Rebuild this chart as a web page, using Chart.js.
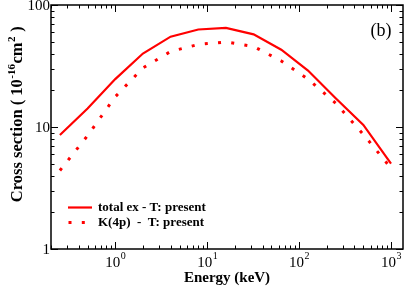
<!DOCTYPE html>
<html>
<head>
<meta charset="utf-8">
<script src="https://cdn.jsdelivr.net/npm/chart.js@4"></script>
<style>
  html, body { margin: 0; padding: 0; background: #fff; }
</style>
</head>
<body>
<canvas id="chart" width="407" height="288"></canvas>
<script>
// Data (log-log plot)
const energies = [0.25, 0.5, 1, 2, 4, 8, 16, 32, 64, 125, 250, 500, 1000];
const totalEx = [8.6, 14.2, 24.7, 40, 55, 63, 65, 57.5, 43, 29, 17.2, 10.4, 5.0];
const k4p = [4.4, 8.5, 17.7, 30.5, 41.6, 47.5, 49.8, 45.7, 34.8, 24.7, 15.7, 8.7, 4.6];
const xTickExponents = ['0', '1', '2', '3'];
const yTickValues = [1, 10, 100];
const seriesLabels = ['total ex - T: present', 'K(4p)  -  T: present'];

const RED = '#ff0000';
const SERIF = '"Liberation Serif", "DejaVu Serif", serif';
const DOT_DASH = [3, 10.3];

function toPoints(xs, ys) {
    return xs.map((v, i) => ({ x: v, y: ys[i] }));
}

// Draws frame, inward ticks, labels, titles and legend like the xmgrace original
const framePlugin = {
    id: 'frame',
    afterDraw(chart) {
        const ctx = chart.ctx;
        const a = chart.chartArea;
        const x = chart.scales.x;
        const y = chart.scales.y;

        ctx.save();
        ctx.strokeStyle = '#000';
        ctx.lineWidth = 1.5;
        ctx.strokeRect(a.left, a.top, a.right - a.left, a.bottom - a.top);

        ctx.lineWidth = 1;
        ctx.beginPath();
        // x ticks, bottom and top
        for (let d = -1; d <= 3; d++) {
            for (let m = 1; m <= 9; m++) {
                const v = m * Math.pow(10, d);
                if (v < 0.2 || v > 1350) continue;
                const px = Math.round(x.getPixelForValue(v)) + 0.5;
                const len = m === 1 ? 7 : 3.5;
                ctx.moveTo(px, a.bottom); ctx.lineTo(px, a.bottom - len);
                ctx.moveTo(px, a.top); ctx.lineTo(px, a.top + len);
            }
        }
        // y ticks, left and right
        for (let d = 0; d <= 2; d++) {
            for (let m = 1; m <= 9; m++) {
                const v = m * Math.pow(10, d);
                if (v > 100) continue;
                const py = Math.round(y.getPixelForValue(v)) + 0.5;
                const len = m === 1 ? 7 : 3.5;
                ctx.moveTo(a.left, py); ctx.lineTo(a.left + len, py);
                ctx.moveTo(a.right, py); ctx.lineTo(a.right - len, py);
            }
        }
        ctx.stroke();

        ctx.fillStyle = '#000';
        // y tick labels
        ctx.font = '15px ' + SERIF;
        ctx.textAlign = 'right';
        ctx.textBaseline = 'middle';
        yTickValues.forEach(v => {
            ctx.fillText(String(v), a.left - 1, y.getPixelForValue(v) + 1);
        });

        // x tick labels 10^n
        xTickExponents.forEach(e => {
            const px = x.getPixelForValue(Math.pow(10, Number(e)));
            ctx.font = '15px ' + SERIF;
            const w1 = ctx.measureText('10').width;
            ctx.font = '10px ' + SERIF;
            const w2 = ctx.measureText(e).width;
            const start = px - (w1 + w2) / 2;
            ctx.textAlign = 'left';
            ctx.textBaseline = 'alphabetic';
            ctx.font = '15px ' + SERIF;
            ctx.fillText('10', start, 267);
            ctx.font = '10px ' + SERIF;
            ctx.fillText(e, start + w1 + 0.5, 259);
        });

        // x axis title
        ctx.font = 'bold 15px ' + SERIF;
        ctx.textAlign = 'center';
        ctx.fillText('Energy (keV)', (a.left + a.right) / 2, 282);

        // y axis title with superscripts, rotated
        const parts = [
            ['Cross section ( 10', 'bold 16.5px ', 0],
            ['-16', 'bold 11px ', -7.5],
            ['cm', 'bold 16.5px ', 0],
            ['2', 'bold 11px ', -7.5],
            [' )', 'bold 16.5px ', 0]
        ];
        let total = 0;
        parts.forEach(p => { ctx.font = p[1] + SERIF; total += ctx.measureText(p[0]).width + 0.5; });
        ctx.translate(22, 114);
        ctx.rotate(-Math.PI / 2);
        ctx.textAlign = 'left';
        let cx = -total / 2;
        parts.forEach(p => {
            ctx.font = p[1] + SERIF;
            ctx.fillText(p[0], cx, p[2]);
            cx += ctx.measureText(p[0]).width + 0.5;
        });
        ctx.setTransform(1, 0, 0, 1, 0, 0);

        // panel label
        ctx.font = '18px ' + SERIF;
        ctx.textAlign = 'center';
        ctx.textBaseline = 'middle';
        ctx.fillText('(b)', 381, 31);

        // legend
        ctx.strokeStyle = RED;
        ctx.lineWidth = 2.2;
        ctx.beginPath();
        ctx.moveTo(68, 207.5); ctx.lineTo(92, 207.5);
        ctx.stroke();
        ctx.lineWidth = 3;
        ctx.setLineDash(DOT_DASH);
        ctx.beginPath();
        ctx.moveTo(68.5, 222.5); ctx.lineTo(92, 222.5);
        ctx.stroke();
        ctx.setLineDash([]);

        ctx.font = 'bold 13px ' + SERIF;
        ctx.textAlign = 'left';
        ctx.textBaseline = 'middle';
        ctx.fillText(seriesLabels[0], 98, 208);
        ctx.fillText(seriesLabels[1], 98, 223);
        ctx.restore();
    }
};

const ctx = document.getElementById('chart').getContext('2d');
const crossSectionChart = new Chart(ctx, {
    type: 'line',
    data: {
        datasets: [
            {
                label: seriesLabels[0],
                data: toPoints(energies, totalEx),
                borderColor: RED,
                borderWidth: 2.2,
                pointRadius: 0,
                tension: 0,
                fill: false
            },
            {
                label: seriesLabels[1],
                data: toPoints(energies, k4p),
                borderColor: RED,
                borderWidth: 3,
                borderDash: DOT_DASH,
                borderCapStyle: 'butt',
                pointRadius: 0,
                tension: 0,
                fill: false
            }
        ]
    },
    options: {
        responsive: false,
        animation: false,
        devicePixelRatio: 1,
        layout: {
            padding: { left: 51, right: 4, top: 5, bottom: 39 }
        },
        plugins: {
            legend: { display: false },
            tooltip: { enabled: false }
        },
        scales: {
            x: {
                type: 'logarithmic',
                display: false,
                min: 0.2,
                max: 1350
            },
            y: {
                type: 'logarithmic',
                display: false,
                min: 1,
                max: 100
            }
        }
    },
    plugins: [framePlugin]
});
</script>
</body>
</html>
